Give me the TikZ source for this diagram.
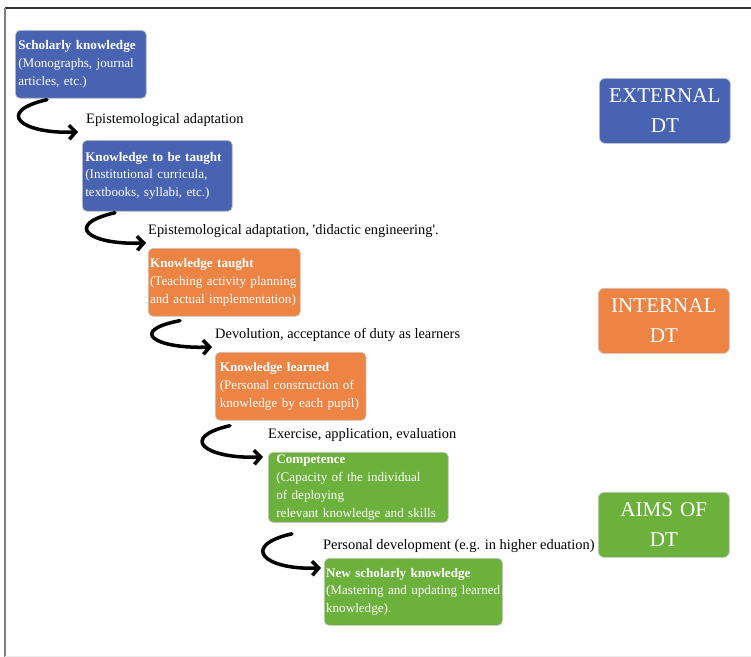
\documentclass[tikz,border=0pt]{standalone}
\usepackage{fontspec}
\setmainfont{Liberation Serif}
\usetikzlibrary{arrows.meta,calc}
\definecolor{dtblue}{RGB}{72,99,177}
\definecolor{dtorange}{RGB}{237,132,68}
\definecolor{dtgreen}{RGB}{107,177,60}
\begin{document}
\begin{tikzpicture}[x=0.03cm, y=-0.03cm,
    stage/.style={rectangle, rounded corners=4pt, draw=gray!45, line width=0.6pt, anchor=north west,
      align=left, text=white, inner xsep=2.5pt, inner ysep=2pt, font=\fontsize{11.2}{15.3}\selectfont},
    dtbox/.style={rectangle, rounded corners=5pt, draw=gray!45, line width=0.6pt, anchor=north west,
      align=center, text=white, text width=105pt, inner xsep=3.4pt, minimum height=55.5pt,
      font=\fontsize{18}{25.5}\selectfont},
    lbl/.style={anchor=west, inner sep=0pt, font=\fontsize{12.3}{14}\selectfont},
    swoop/.style={line width=3pt, line cap=round, -{Straight Barb[length=5.5pt,width=12pt]}}]
            \useasboundingbox (0,0) rectangle (751,657);
            \draw[black!80, line width=0.9pt] (5,8) -- (751,8);
            \draw[gray, line width=1.6pt] (5,8) -- (5,657);
            \draw[gray!15, line width=0.6pt] (5,656) -- (751,656);
            % steps of the didactic transposition
            \node[stage, fill=dtblue, text width=106.8pt, minimum height=58pt] (sk) at (15,30) {\textbf{Scholarly knowledge}\\(Monographs, journal\\articles, etc.)};
            \node[stage, fill=dtblue, text width=123pt, minimum height=60.6pt] (tbt) at (82,140) {\textbf{Knowledge to be taught}\\(Institutional curricula,\\textbooks, syllabi, etc.)};
            \node[stage, fill=dtorange, inner xsep=1.5pt, text width=126.7pt, minimum height=58pt] (kt) at (148,248) {\textbf{Knowledge taught}\\(Teaching activity planning\\and actual implementation)};
            \node[stage, fill=dtorange, inner xsep=3.8pt, text width=121pt, minimum height=58pt] (kl) at (215,352) {\textbf{Knowledge learned}\\(Personal construction of\\knowledge by each pupil)};
            \node[stage, fill=dtgreen, inner xsep=6.8pt, text width=140pt, minimum height=59.8pt] (comp) at (268,452) {\textbf{Competence}\\(Capacity of the individual\\of deploying\\relevant knowledge and skills};
            \node[stage, fill=dtgreen, inner xsep=1.5pt, text width=149pt, minimum height=57.2pt] (nsk) at (324,558) {\textbf{New scholarly knowledge}\\(Mastering and updating learned\\knowledge).};
            % what happens between the steps
            \node[lbl] (ea) at (86,120) {Epistemological adaptation};
            \node[lbl] (de) at (148,231) {Epistemological adaptation, \textquotesingle didactic engineering\textquotesingle.};
            \node[lbl] (dv) at (215,335) {Devolution, acceptance of duty as learners};
            \node[lbl] (ex) at (268,435) {Exercise, application, evaluation};
            \node[lbl] (pd) at (323,546) {Personal development (e.g. in higher eduation)};
            \draw[swoop] ($(sk.south west)+(32,1)$) .. controls +(-52,12) and +(-58,2) .. ($(tbt.north west)+(-4,-8)$);
            \draw[swoop] ($(tbt.south west)+(33,1)$) .. controls +(-52,12) and +(-58,2) .. ($(kt.north west)+(-2,-5)$);
            \draw[swoop] ($(kt.south west)+(32,4)$) .. controls +(-52,10) and +(-58,2) .. ($(kl.north west)+(-3,-5)$);
            \draw[swoop] ($(kl.south west)+(15,5)$) .. controls +(-52,12) and +(-58,2) .. ($(comp.north west)+(-5,5)$);
            \draw[swoop] ($(comp.south west)+(24,11)$) .. controls +(-52,12) and +(-58,2) .. ($(nsk.north west)+(-3,10)$);
            % the three groups
            \node[dtbox, fill=dtblue] (ext) at (599,78) {EXTERNAL\\DT};
            \node[dtbox, fill=dtorange] (int) at (598,288) {INTERNAL\\DT};
            \node[dtbox, fill=dtgreen] (aim) at (598,492) {AIMS OF\\DT};
        \end{tikzpicture}
\end{document}
